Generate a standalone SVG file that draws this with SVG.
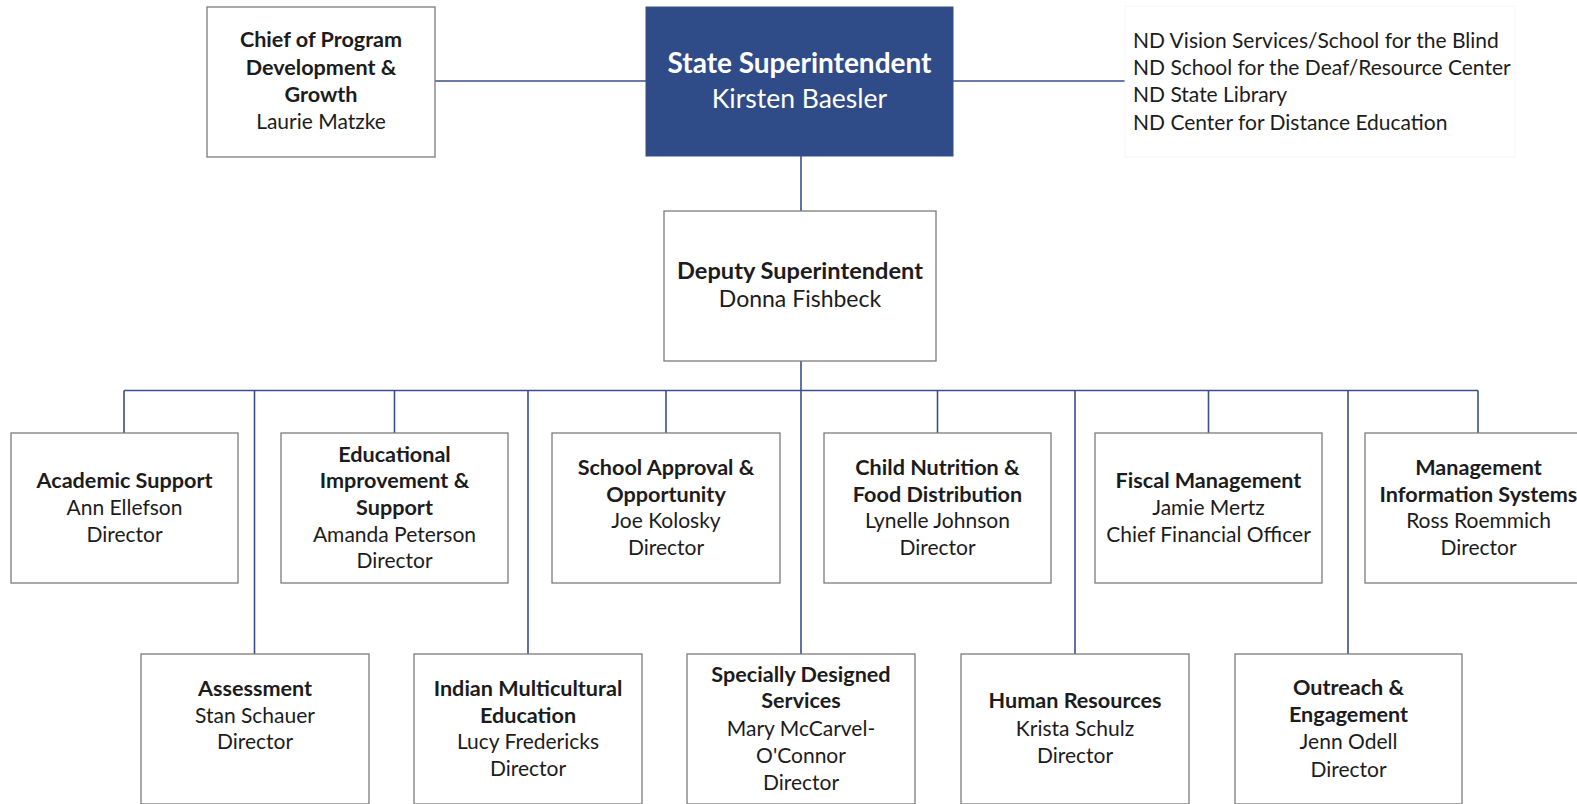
<svg xmlns="http://www.w3.org/2000/svg" width="1577" height="804" viewBox="0 0 1577 804">
<style>
.box{fill:#ffffff;stroke:#7c7c7c;stroke-width:1.3}
.t{font-family:Lato,"Open Sans",sans-serif;font-size:21px;fill:#1c1c1c;text-anchor:middle}
.b{font-weight:bold;font-size:21.6px}
.w{fill:#ffffff}
.big{font-size:26.5px}
.bigb{font-size:28px}
.dep{font-size:23px}
.depb{font-size:23.6px}
.l{text-anchor:start;font-size:21px}
.conn{stroke:#3b4f8f;stroke-width:1.6;fill:none}
</style>
<rect width="1577" height="804" fill="#ffffff"/>
<g id="connectors" class="conn">
<path d="M435,81 H646 M953,81 H1127 M801,156 V211 M801,361 V654 M124,390.5 H1478"/>
<path d="M124,390.5 V433 M394.5,390.5 V433 M666,390.5 V433 M937.5,390.5 V433 M1208.5,390.5 V433 M1478,390.5 V433"/>
<path d="M254.5,390.5 V654 M528,390.5 V654 M1075,390.5 V654 M1348,390.5 V654"/>
</g>
<g id="chief">
<rect class="box" x="207" y="7" width="228" height="150"/>
<text class="t b" x="321" y="47">Chief of Program</text>
<text class="t b" x="321" y="75">Development &amp;</text>
<text class="t b" x="321" y="102">Growth</text>
<text class="t" x="321" y="129">Laurie Matzke</text>
</g>
<g id="state">
<rect x="646" y="7" width="307" height="149" fill="#2f4b88" stroke="#3a4f86" stroke-width="1"/>
<text class="t b w bigb" x="799.5" y="72.5">State Superintendent</text>
<text class="t w big" x="799.5" y="108">Kirsten Baesler</text>
</g>
<g id="agencies">
<rect x="1125" y="6" width="390" height="151" fill="#ffffff" stroke="#f6f6f6" stroke-width="1"/>
<text class="t l" x="1133" y="47.5">ND Vision Services/School for the Blind</text>
<text class="t l" x="1133" y="75">ND School for the Deaf/Resource Center</text>
<text class="t l" x="1133" y="102">ND State Library</text>
<text class="t l" x="1133" y="129.5">ND Center for Distance Education</text>
</g>
<g id="deputy">
<rect class="box" x="664" y="211" width="272" height="150"/>
<text class="t b depb" x="800" y="279">Deputy Superintendent</text>
<text class="t dep" x="800" y="307">Donna Fishbeck</text>
</g>
<g id="academic">
<rect class="box" x="11" y="433" width="227" height="150"/>
<text class="t b" x="124.5" y="488.3">Academic Support</text>
<text class="t" x="124.5" y="515">Ann Ellefson</text>
<text class="t" x="124.5" y="541.7">Director</text>
</g>
<g id="educational">
<rect class="box" x="281" y="433" width="227" height="150"/>
<text class="t b" x="394.5" y="461.6">Educational</text>
<text class="t b" x="394.5" y="488.3">Improvement &amp;</text>
<text class="t b" x="394.5" y="515">Support</text>
<text class="t" x="394.5" y="541.7">Amanda Peterson</text>
<text class="t" x="394.5" y="568.4">Director</text>
</g>
<g id="school-approval">
<rect class="box" x="552" y="433" width="228" height="150"/>
<text class="t b" x="666" y="475">School Approval &amp;</text>
<text class="t b" x="666" y="501.7">Opportunity</text>
<text class="t" x="666" y="528.4">Joe Kolosky</text>
<text class="t" x="666" y="555.1">Director</text>
</g>
<g id="child-nutrition">
<rect class="box" x="824" y="433" width="227" height="150"/>
<text class="t b" x="937.5" y="475">Child Nutrition &amp;</text>
<text class="t b" x="937.5" y="501.7">Food Distribution</text>
<text class="t" x="937.5" y="528.4">Lynelle Johnson</text>
<text class="t" x="937.5" y="555.1">Director</text>
</g>
<g id="fiscal">
<rect class="box" x="1095" y="433" width="227" height="150"/>
<text class="t b" x="1208.5" y="488.3">Fiscal Management</text>
<text class="t" x="1208.5" y="515">Jamie Mertz</text>
<text class="t" x="1208.5" y="541.7">Chief Financial Officer</text>
</g>
<g id="mis">
<rect class="box" x="1365" y="433" width="227" height="150"/>
<text class="t b" x="1478.5" y="475">Management</text>
<text class="t b" x="1478.5" y="501.7">Information Systems</text>
<text class="t" x="1478.5" y="528.4">Ross Roemmich</text>
<text class="t" x="1478.5" y="555.1">Director</text>
</g>
<g id="assessment">
<rect class="box" x="141" y="654" width="228" height="150"/>
<text class="t b" x="255" y="696">Assessment</text>
<text class="t" x="255" y="722.7">Stan Schauer</text>
<text class="t" x="255" y="749.4">Director</text>
</g>
<g id="indian">
<rect class="box" x="414" y="654" width="228" height="150"/>
<text class="t b" x="528" y="696">Indian Multicultural</text>
<text class="t b" x="528" y="722.7">Education</text>
<text class="t" x="528" y="749.4">Lucy Fredericks</text>
<text class="t" x="528" y="776.1">Director</text>
</g>
<g id="specially">
<rect class="box" x="687" y="654" width="228" height="150"/>
<text class="t b" x="801" y="681.7">Specially Designed</text>
<text class="t b" x="801" y="708.4">Services</text>
<text class="t" x="801" y="735.6">Mary McCarvel-</text>
<text class="t" x="801" y="762.8">O'Connor</text>
<text class="t" x="801" y="790">Director</text>
</g>
<g id="hr">
<rect class="box" x="961" y="654" width="228" height="150"/>
<text class="t b" x="1075" y="708.4">Human Resources</text>
<text class="t" x="1075" y="735.6">Krista Schulz</text>
<text class="t" x="1075" y="762.8">Director</text>
</g>
<g id="outreach">
<rect class="box" x="1235" y="654" width="227" height="150"/>
<text class="t b" x="1348.5" y="695">Outreach &amp;</text>
<text class="t b" x="1348.5" y="721.7">Engagement</text>
<text class="t" x="1348.5" y="749">Jenn Odell</text>
<text class="t" x="1348.5" y="776.7">Director</text>
</g>
</svg>
